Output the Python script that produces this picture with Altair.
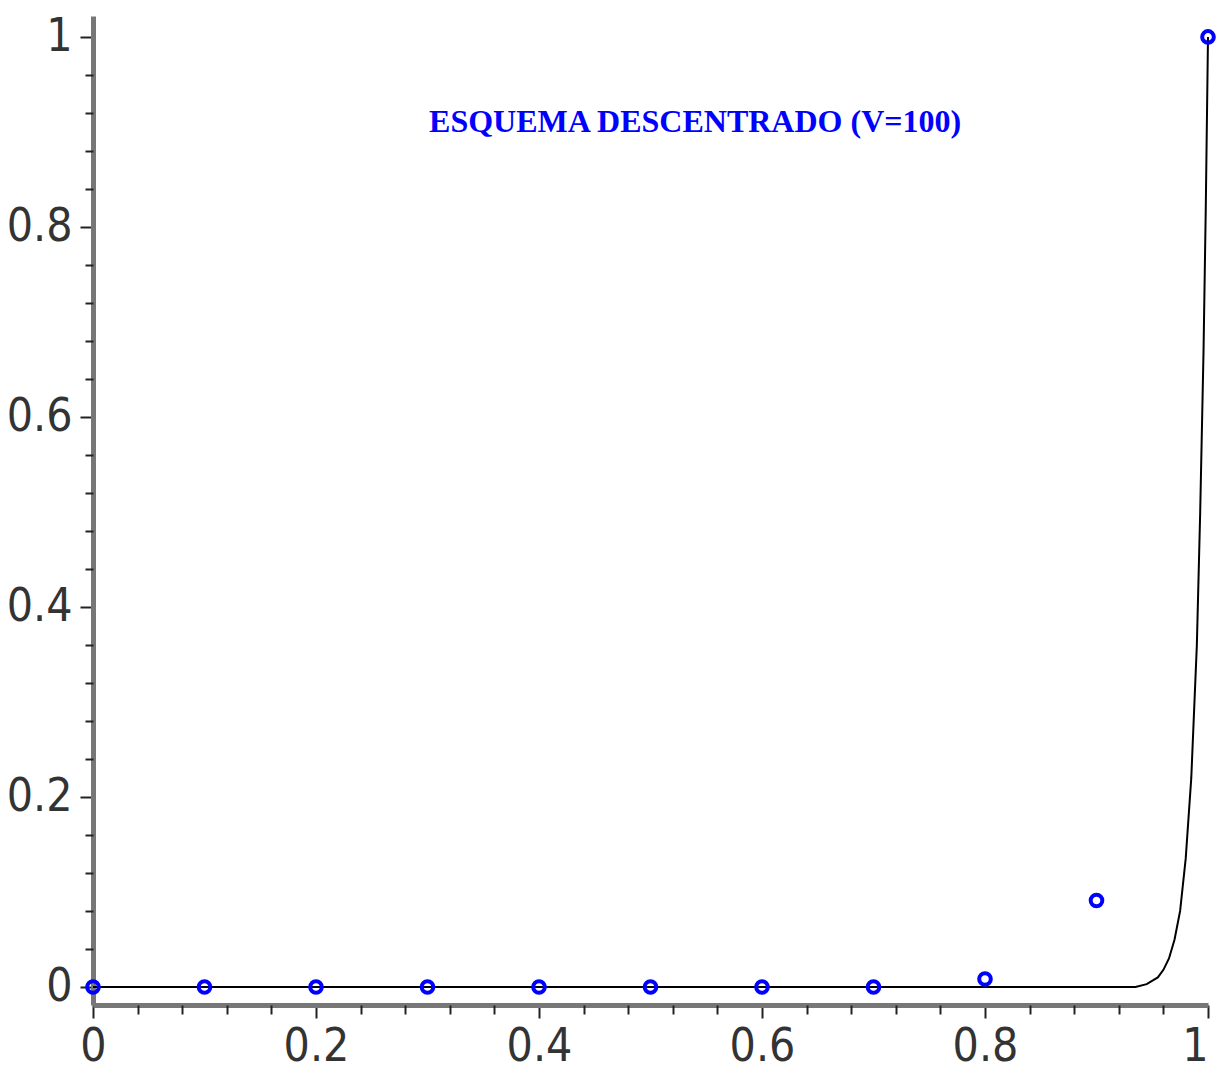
import altair as alt
import pandas as pd

# Discrete upwind-scheme nodes (blue circles)
x_nodes = [0.0, 0.1, 0.2, 0.3, 0.4, 0.5, 0.6, 0.7, 0.8, 0.9, 1.0]
y_nodes = [0.0, 0.0, 0.0, 0.0, 0.0, 0.0, 0.0, 0.0, 0.0083, 0.091, 1.0]

# Exact solution curve (black line)
x_curve = [0.0, 0.5, 0.9, 0.935, 0.945, 0.955, 0.96, 0.965, 0.97, 0.975, 0.98,
           0.985, 0.99, 0.993, 0.996, 0.998, 1.0]
y_curve = [0.0, 0.0, 0.0, 0.0, 0.003, 0.01, 0.018, 0.03, 0.05, 0.08, 0.135,
           0.22, 0.36, 0.5, 0.67, 0.82, 1.0]

major_ticks = [0, 0.2, 0.4, 0.6, 0.8, 1.0]
minor_ticks = [round(i * 0.04, 2) for i in range(26) if i % 5]

title_text = ["ESQUEMA DESCENTRADO (V=100)"]
title_x = [0.54]
title_y = [0.91]

nodes = pd.DataFrame({"x": x_nodes, "y": y_nodes})
curve = pd.DataFrame({"x": x_curve, "y": y_curve})
label = pd.DataFrame({"x": title_x, "y": title_y, "t": title_text})

xs = alt.Scale(domain=[0, 1], nice=False, zero=False)
ys = alt.Scale(domain=[-0.019, 1.022], nice=False, zero=False)

line = alt.Chart(curve).mark_line(color="black", strokeWidth=2).encode(
    x=alt.X("x:Q", scale=xs, title=None,
            axis=alt.Axis(orient="bottom", values=major_ticks, format="~g",
                          tickSize=13, labelPadding=6, labelBaseline="top",
                          labelAlign={"condition": {"test": "datum.value == 1",
                                                    "value": "right"},
                                      "value": "center"})),
    y=alt.Y("y:Q", scale=ys, title=None,
            axis=alt.Axis(orient="left", values=major_ticks, format="~g",
                          tickSize=13, labelPadding=8, labelAlign="right",
                          labelBaseline="middle")),
    order=alt.Order("x:Q"),
)

pts = alt.Chart(nodes).mark_point(shape="circle", filled=False, size=135,
                                  strokeWidth=4, color="#0000ff", opacity=1).encode(
    x=alt.X("x:Q", scale=xs, title=None,
            axis=alt.Axis(orient="bottom", values=minor_ticks, labels=False,
                          domain=False, tickSize=9)),
    y=alt.Y("y:Q", scale=ys, title=None,
            axis=alt.Axis(orient="left", values=minor_ticks, labels=False,
                          domain=False, tickSize=8)),
)

txt = alt.Chart(label).mark_text(font="Liberation Serif", fontWeight="bold",
                                 fontSize=32, color="#0000ff",
                                 baseline="middle", align="center").encode(
    x=alt.X("x:Q", scale=xs, axis=None),
    y=alt.Y("y:Q", scale=ys, axis=None),
    text="t:N",
)

chart = alt.layer(line, pts, txt).resolve_axis(
    x="independent", y="independent"
).properties(
    width=1115, height=989,
    autosize=alt.AutoSizeParams(type="none"),
    padding={"left": 93, "top": 16, "right": 10, "bottom": 68},
    background="white",
).configure_view(stroke=None).configure_axis(
    grid=False,
    domainColor="#777777", domainWidth=5,
    tickColor="#222222", tickWidth=2,
    labelFont="DejaVu Sans Condensed, Liberation Sans Narrow, DejaVu Sans",
    labelFontSize=46, labelFontWeight=300,
    labelColor="#333333", labelOverlap=False, labelFlush=False,
    labelBound=False,
)

chart.save("out.html", embed_options={"renderer": "svg", "actions": False})
